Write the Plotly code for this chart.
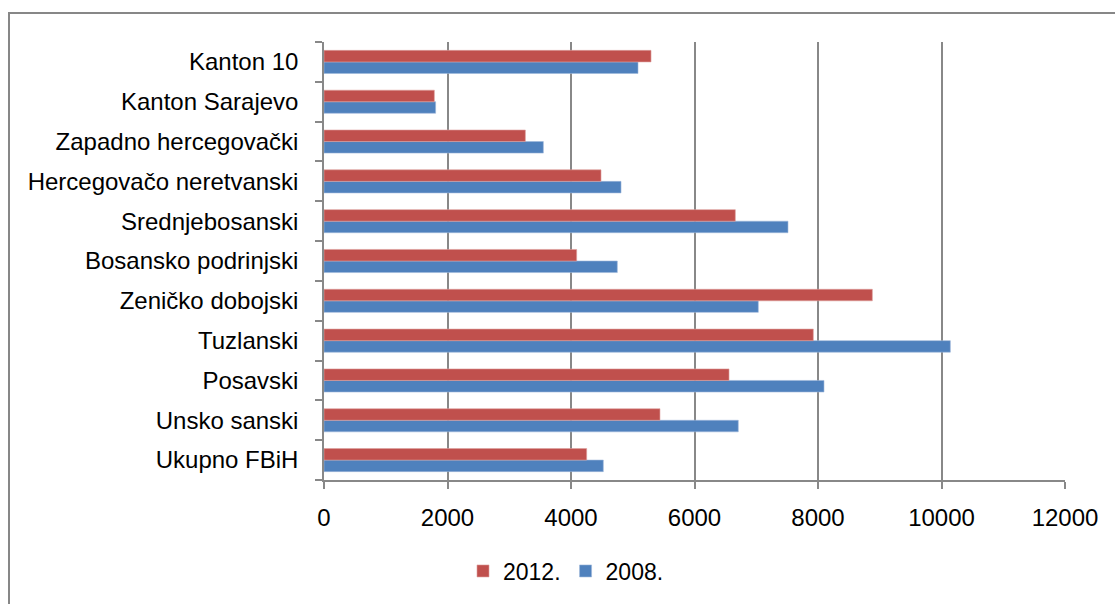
import plotly.graph_objects as go

categories = ["Ukupno FBiH", "Unsko sanski", "Posavski", "Tuzlanski", "Zeničko dobojski",
              "Bosansko podrinjski", "Srednjebosanski", "Hercegovačo neretvanski",
              "Zapadno hercegovački", "Kanton Sarajevo", "Kanton 10"]
values_2012 = [4254, 5441, 6559, 7924, 8880, 4092, 6661, 4486, 3261, 1787, 5296]
values_2008 = [4523, 6709, 8097, 10143, 7033, 4750, 7514, 4810, 3552, 1808, 5085]
x_ticks = [0, 2000, 4000, 6000, 8000, 10000, 12000]

fig = go.Figure()
fig.add_trace(go.Bar(y=categories, x=values_2008, orientation="h", name="2008.",
                     marker=dict(color="#4F81BD", line=dict(color="#9DB7DA", width=0.6))))
fig.add_trace(go.Bar(y=categories, x=values_2012, orientation="h", name="2012.",
                     marker=dict(color="#C0504D", line=dict(color="#DDA09E", width=0.6))))

L, T, R, B = 324, 42, 1065, 480
W, H = 1115, 604
pw, ph = R - L, B - T

fig.update_layout(
    width=W, height=H,
    margin=dict(l=L, r=W - R, t=T, b=H - B, pad=0),
    paper_bgcolor="white", plot_bgcolor="white",
    barmode="group", bargap=0.42, bargroupgap=0,
    font=dict(family="Liberation Sans, Arial, sans-serif", color="#000000", size=23),
    legend=dict(orientation="h", traceorder="reversed", x=(566 - L) / pw, xanchor="center",
                y=(B - 571) / ph, yanchor="middle", font=dict(size=23),
                itemwidth=30, bgcolor="rgba(0,0,0,0)"),
    xaxis=dict(range=[0, 12000], tickvals=x_ticks, ticktext=[str(v) for v in x_ticks],
               showgrid=True, gridcolor="#888888", gridwidth=1.5,
               showline=True, linecolor="#888888", linewidth=1.5,
               ticks="outside", ticklen=7, tickcolor="#888888", tickwidth=1.5,
               ticklabelstandoff=8, zeroline=False, fixedrange=True,
               tickfont=dict(size=24)),
    yaxis=dict(type="category", categoryorder="array", categoryarray=categories,
               showline=True, linecolor="#888888", linewidth=1.5,
               ticks="outside", ticklen=7, tickcolor="#888888", tickwidth=1.5,
               tickson="boundaries", ticklabelstandoff=19, showgrid=False,
               fixedrange=True, tickfont=dict(size=24)),
    shapes=[dict(type="rect", xref="paper", yref="paper",
                 x0=(9 - L) / pw, x1=(1125 - L) / pw,
                 y0=(B - 615) / ph, y1=1 + (T - 13) / ph,
                 line=dict(color="#878787", width=2), fillcolor="rgba(0,0,0,0)", layer="below")],
)

fig.write_html("out.html", config={"displayModeBar": False},
               post_script="document.body.style.margin='0';document.body.style.overflow='hidden';")
